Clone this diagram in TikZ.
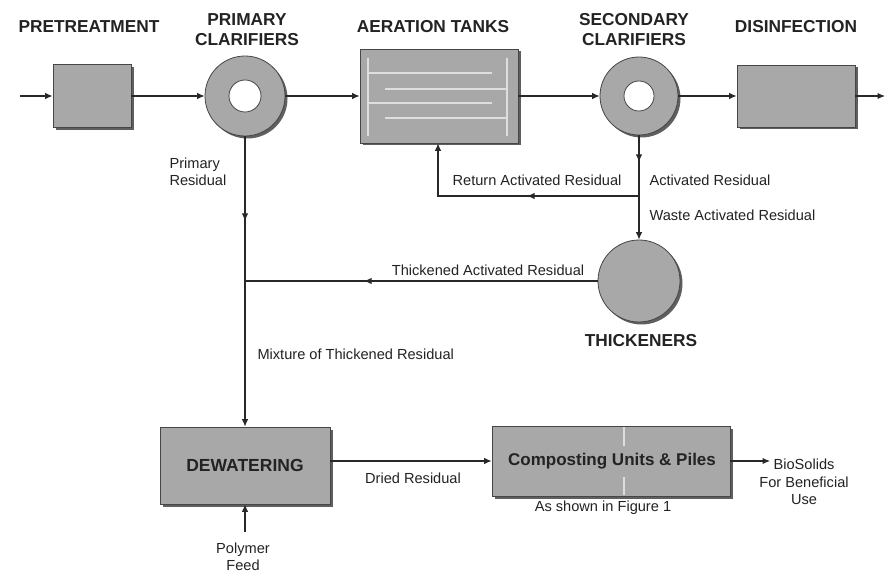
\documentclass[tikz,border=0pt]{standalone}
\usepackage{fontspec}
\setmainfont{Liberation Sans}
\usetikzlibrary{arrows.meta,calc}
\definecolor{boxgray}{RGB}{168,168,168}
\definecolor{edgegray}{RGB}{70,70,70}
\definecolor{shadegray}{RGB}{95,95,95}
\definecolor{linecol}{RGB}{40,40,40}
\definecolor{txtcol}{RGB}{35,35,35}
\definecolor{lightln}{RGB}{222,222,222}
\tikzset{
  unitbox/.style={rectangle,fill=boxgray,draw=edgegray,line width=0.8pt,inner sep=0pt},
  shadowed/.style={preaction={fill=shadegray,draw=none,transform canvas={shift={(2.5pt,-2.5pt)}}}},
  roundunit/.style={circle,fill=boxgray,draw=edgegray,line width=0.8pt,inner sep=0pt},
  holeunit/.style={circle,fill=white,draw=edgegray,line width=0.8pt,inner sep=0pt,minimum size=32pt},
  head/.style={font=\fontsize{17.3}{20}\selectfont\bfseries,text=txtcol,align=center},
  lab/.style={font=\fontsize{14.6}{17.5}\selectfont,text=txtcol},
  flow/.style={draw=linecol,line width=1.1pt,-{Latex[length=7.5pt,width=6.5pt]}},
  plain/.style={draw=linecol,line width=1.1pt},
  tankline/.style={draw=lightln,line width=1.3pt}
}
\begin{document}
\begin{tikzpicture}[x=1pt,y=-1pt]
\useasboundingbox[fill=white] (0,0) rectangle (887,580);

% units
\node[unitbox,shadowed,minimum width=78pt,minimum height=63pt] (pre) at (92,96) {};
\node[roundunit,shadowed,minimum size=80pt] (pc) at (245,96) {};
\node[holeunit] (pch) at (245,96) {};
\node[unitbox,shadowed,minimum width=158pt,minimum height=94pt] (aer) at (439,96) {};
\node[roundunit,shadowed,minimum size=78pt] (sc) at (639,96) {};
\node[holeunit,minimum size=30pt] (sch) at (639,96) {};
\node[unitbox,shadowed,minimum width=118pt,minimum height=62pt] (dis) at (796,96) {};
\node[roundunit,shadowed,minimum size=82pt] (th) at (639,281) {};
\node[unitbox,shadowed,minimum width=170pt,minimum height=77pt,font=\fontsize{17.5}{20}\selectfont\bfseries,text=txtcol] (dew) at (245,465.5) {DEWATERING};
\node[unitbox,shadowed,minimum width=238pt,minimum height=70pt] (comp) at (611,461) {};
\draw[tankline] (624,427) -- (624,446);
\draw[tankline] (624,477) -- (624,495);
\node[font=\fontsize{17}{20}\selectfont\bfseries,text=txtcol] (comptxt) at (612,461) {Composting Units \& Piles};

% aeration tank inner lines
\draw[tankline] (368,58) -- (368,136);
\draw[tankline] (507,58) -- (507,136);
\draw[tankline] (368,73) -- (492,73);
\draw[tankline] (385,89) -- (507,89);
\draw[tankline] (368,103) -- (492,103);
\draw[tankline] (385,118) -- (507,118);

% headings
\node[head] (hpre) at (89,27) {PRETREATMENT};
\node[head] (hpc) at (247,30) {PRIMARY\\CLARIFIERS};
\node[head] (haer) at (433,27) {AERATION TANKS};
\node[head] (hsc) at (634,30) {SECONDARY\\CLARIFIERS};
\node[head] (hdis) at (796,27) {DISINFECTION};
\node[head] (hth) at (641,341) {THICKENERS};

% coordinates
\coordinate (in) at (20,96);
\coordinate (out) at (885,96);
\coordinate (ret) at (639,196);
\coordinate (retc) at (438,196);
\coordinate (join) at (245,281);
\coordinate (poly) at (245,532);
\coordinate (bio) at (770,461);
\coordinate (pcm) at (245,221);
\coordinate (scm) at (639,162);
\coordinate (retm) at (527,196);
\coordinate (thm) at (364,281);

% main flow
\draw[flow] (in) -- (pre.west);
\draw[flow] (pre.east) -- (pc.west);
\draw[flow] (pc.east) -- (aer.west);
\draw[flow] (aer.east) -- (sc.west);
\draw[flow] (sc.east) -- (dis.west);
\draw[flow] (dis.east) -- (out);

% residual lines (full line plus a mid-way arrowhead)
\draw[flow] (pc.south) -- (dew.north);
\draw[flow] (pc.south) -- (pcm);
\draw[flow] (sc.south) -- (th.north);
\draw[flow] (sc.south) -- (scm);
\draw[flow] (ret) -- (retc) -- (retc |- aer.south);
\draw[flow] (ret) -- (retm);
\draw[plain] (th.west) -- (join);
\draw[flow] (th.west) -- (thm);
\draw[flow] (dew.east |- comp.west) -- (comp.west);
\draw[flow] (comp.east) -- (bio);
\draw[flow] (poly) -- (dew.south);

% labels
\node[lab,align=left,anchor=west] (lprim) at (166,172) {Primary\\Residual};
\node[lab] (lret) at (537,180) {Return Activated Residual};
\node[lab,anchor=west] (lact) at (646,180) {Activated Residual};
\node[lab,anchor=west] (lwaste) at (646,215) {Waste Activated Residual};
\node[lab] (lthick) at (488,270) {Thickened Activated Residual};
\node[lab,anchor=west] (lmix) at (254,354) {Mixture of Thickened Residual};
\node[lab] (ldried) at (413,478) {Dried Residual};
\node[lab] (lfig) at (603,508) {As shown in Figure 1};
\node[lab,align=center] (lbio) at (804,482) {BioSolids\\For Beneficial\\Use};
\node[lab,align=center] (lpoly) at (243,557) {Polymer\\Feed};
\end{tikzpicture}
\end{document}
